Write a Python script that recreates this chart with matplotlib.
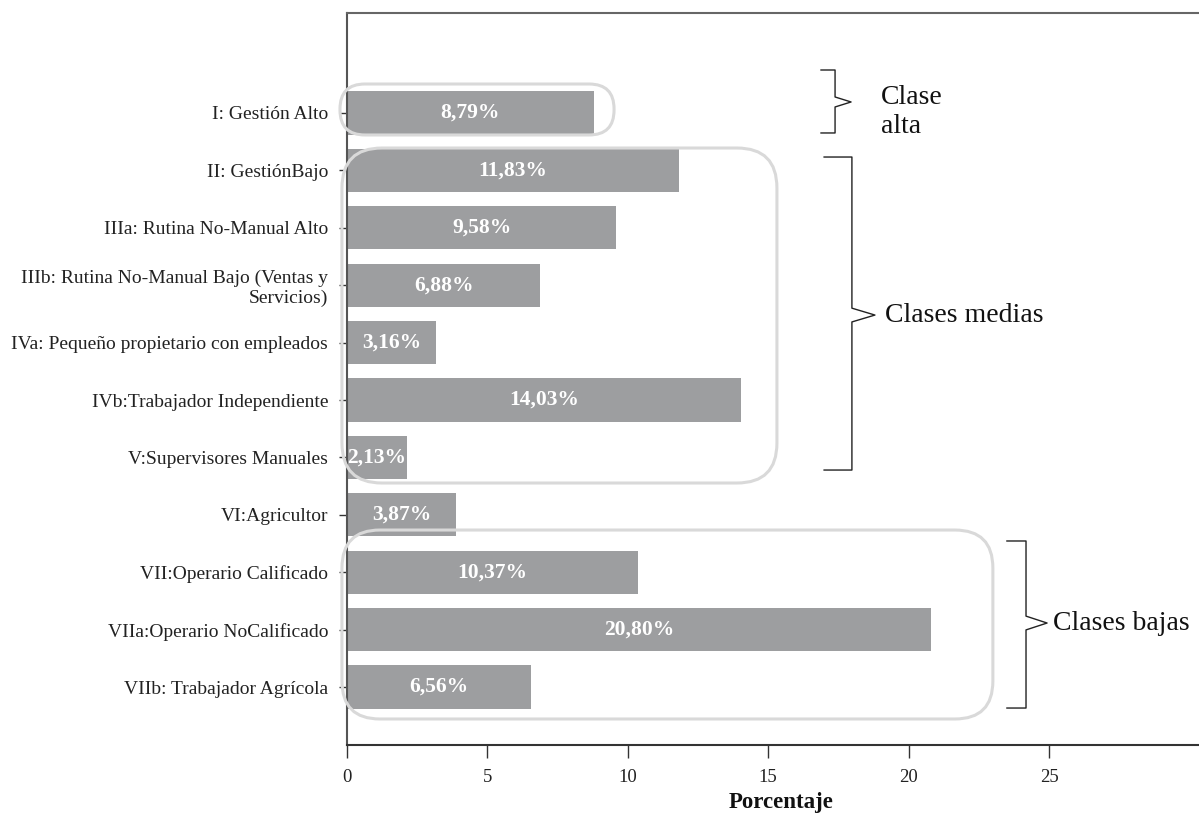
import matplotlib
matplotlib.use("Agg")
import matplotlib.pyplot as plt
from matplotlib.patches import FancyBboxPatch

plt.rcParams['font.family'] = ['Liberation Serif', 'DejaVu Serif']

# Categories (top to bottom) and their percentage shares
categorias = [
    "I: Gestión Alto",
    "II: GestiónBajo",
    "IIIa: Rutina No-Manual Alto",
    "IIIb: Rutina No-Manual Bajo (Ventas y\nServicios)",
    "IVa: Pequeño propietario con empleados",
    "IVb:Trabajador Independiente",
    "V:Supervisores Manuales",
    "VI:Agricultor",
    "VII:Operario Calificado",
    "VIIa:Operario NoCalificado",
    "VIIb: Trabajador Agrícola",
]
porcentajes = [8.79, 11.83, 9.58, 6.88, 3.16, 14.03, 2.13, 3.87, 10.37, 20.80, 6.56]

x_ticks = [0, 5, 10, 15, 20, 25]
x_label = "Porcentaje"

# Class group names
grupos = ["Clase\nalta", "Clases medias", "Clases bajas"]

W, H = 1199, 813
fig = plt.figure(figsize=(W / 100, H / 100), dpi=100)
ax = fig.add_axes([347 / W, 1 - 745 / H, (W - 347) / W, (745 - 13) / H])

pos = list(range(len(categorias)))
bars = ax.barh(pos, porcentajes, height=0.75, color="#9d9ea0", zorder=2)
ax.bar_label(bars, labels=[f"{v:.2f}".replace(".", ",") + "%" for v in porcentajes],
             label_type="center", color="white", fontweight="bold", fontsize=15.5,
             zorder=4)

ax.set_xlim(0, 30.34)
ax.set_ylim(11.01, -1.742)
ax.set_yticks(pos)
ax.set_yticklabels(categorias, fontsize=14, color="#222222")
ax.set_xticks(x_ticks)
ax.set_xticklabels([str(t) for t in x_ticks], fontsize=13.5, color="#222222")
ax.tick_params(axis="y", length=6, width=1, pad=7.5, color="#333333")
ax.tick_params(axis="x", length=9, width=1, pad=8, color="#333333")
ax.set_xlabel(x_label, fontsize=16.5, fontweight="bold", color="#111111")
ax.xaxis.set_label_coords(0.51, -0.078)
ax.xaxis.label.set_va("center")

ax.spines["right"].set_visible(False)
ax.spines["top"].set_color("#666666")
ax.spines["top"].set_linewidth(1.5)
ax.spines["left"].set_color("#555555")
ax.spines["left"].set_linewidth(1.5)
ax.spines["bottom"].set_color("#333333")
ax.spines["bottom"].set_linewidth(1.5)

# Pixel-to-data aspect so that rounded corners stay circular
px_x = 28.08   # pixels per x unit
px_y = 57.4    # pixels per category step
aspect = px_x / px_y


def caja(x0, x1, y0, y1, radio_px):
    p = FancyBboxPatch((x0, y0), x1 - x0, y1 - y0,
                       boxstyle=f"round,pad=0,rounding_size={radio_px / px_x}",
                       mutation_aspect=aspect, fill=False,
                       edgecolor="#d9d9d9", linewidth=2.2, zorder=3,
                       clip_on=False)
    ax.add_patch(p)


# Rounded outlines around each class group
caja(-0.25, 9.51, -0.505, 0.383, 25)
caja(-0.18, 15.31, 0.61, 6.446, 40)
caja(-0.18, 23.0, 7.265, 10.557, 38)


def llave(x_ext, x_v, x_tip, y0, y1, y_tip, dy):
    xs = [x_ext, x_v, x_v, x_tip, x_v, x_v, x_ext]
    ys = [y0, y0, y_tip - dy, y_tip, y_tip + dy, y1, y1]
    ax.plot(xs, ys, color="#222222", linewidth=1.0, zorder=3, clip_on=False)


def rotulo(x, y, texto):
    ax.text(x, y, texto, fontsize=20, color="#111111",
            ha="left", va="center", linespacing=1.2)


# Brackets with group names
llave(16.88, 17.38, 17.95, -0.749, 0.348, -0.192, 0.087)
rotulo(19.02, -0.017, grupos[0])
llave(16.99, 17.98, 18.80, 0.767, 6.22, 3.52, 0.12)
rotulo(19.16, 3.52, grupos[1])
llave(23.50, 24.18, 24.93, 7.456, 10.366, 8.885, 0.12)
rotulo(25.14, 8.885, grupos[2])

fig.savefig("out.png", dpi=100)
